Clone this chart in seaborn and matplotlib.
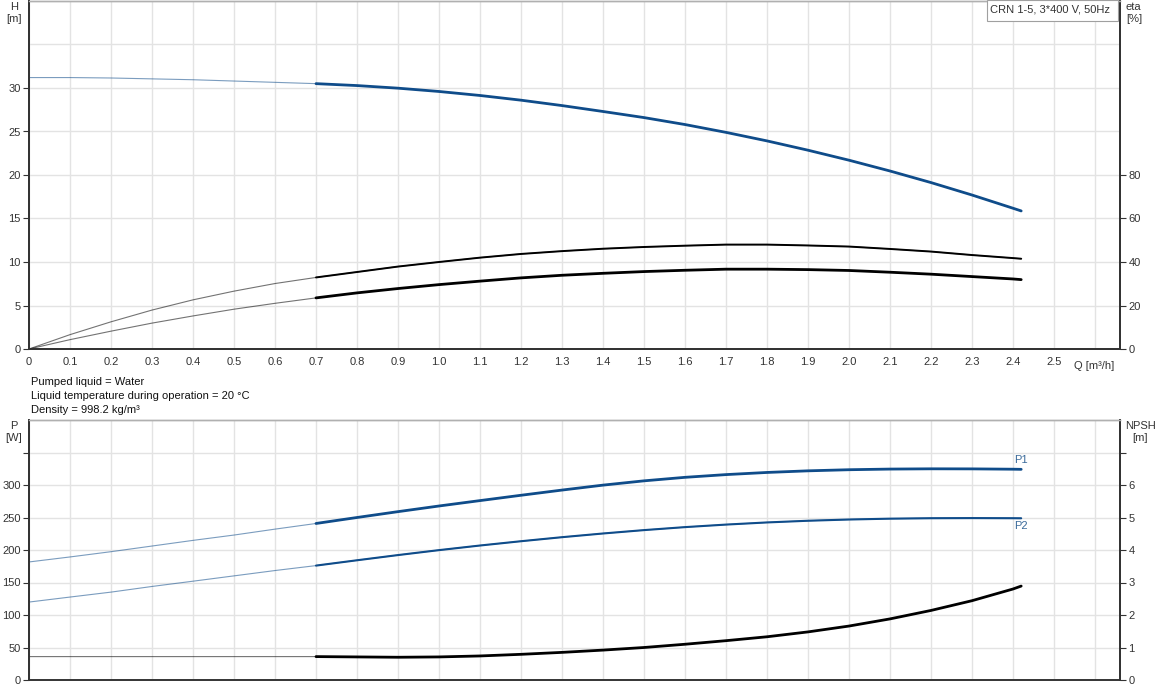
import numpy as np
import seaborn as sns
import matplotlib.pyplot as plt
from matplotlib.patches import Rectangle

# flow points [m3/h]
q = [0.0, 0.1, 0.2, 0.3, 0.4, 0.5, 0.6, 0.7, 0.8, 0.9, 1.0, 1.1, 1.2, 1.3,
     1.4, 1.5, 1.6, 1.7, 1.8, 1.9, 2.0, 2.1, 2.2, 2.3, 2.4, 2.42]

head = [31.2, 31.2, 31.15, 31.05, 30.95, 30.8, 30.65, 30.5, 30.28, 29.98, 29.6,
        29.14, 28.6, 27.98, 27.3, 26.6, 25.8, 24.9, 23.92, 22.85, 21.7,
        20.46, 19.13, 17.7, 16.18, 15.87]
eta_pump = [0, 6.6, 12.5, 17.9, 22.6, 26.6, 30.1, 32.9, 35.4, 37.9, 40.0, 42.0,
            43.7, 45.0, 46.1, 46.9, 47.5, 48.0, 48.0, 47.6, 47.1, 46.0, 44.8,
            43.2, 41.8, 41.5]
eta_total = [0, 4.3, 8.2, 11.9, 15.2, 18.3, 21.0, 23.5, 25.8, 27.8, 29.6, 31.2,
             32.7, 33.9, 34.8, 35.6, 36.2, 36.7, 36.7, 36.5, 36.1, 35.3, 34.4,
             33.3, 32.2, 31.9]
p1 = [181.6, 189.3, 197.4, 206.1, 214.8, 223.0, 232.1, 240.8, 250.0, 259.0,
      267.7, 276.0, 284.2, 292.2, 299.8, 306.4, 311.8, 316.0, 319.3, 321.8,
      323.5, 324.5, 324.9, 324.8, 324.3, 324.1]
p2 = [119.9, 127.6, 135.2, 143.9, 152.0, 160.2, 168.4, 176.0, 184.2, 192.2,
      199.8, 206.9, 213.5, 219.7, 225.4, 230.6, 235.2, 239.1, 242.4, 245.0,
      246.9, 248.2, 248.9, 249.1, 248.9, 248.8]
npsh = [0.72, 0.72, 0.72, 0.72, 0.72, 0.72, 0.72, 0.72, 0.71, 0.70, 0.71, 0.74,
        0.79, 0.85, 0.92, 1.0, 1.1, 1.21, 1.33, 1.48, 1.66, 1.88, 2.14, 2.44,
        2.8, 2.89]

q_ticks = [round(0.1 * i, 1) for i in range(27)]
q_labels = ['0'] + ['%.1f' % v for v in q_ticks[1:26]] + ['']
h_ticks = [0, 5, 10, 15, 20, 25, 30]
eta_ticks = [0, 20, 40, 60, 80]
p_ticks = [0, 50, 100, 150, 200, 250, 300, 350]
p_labels = ['0', '50', '100', '150', '200', '250', '300', '']
npsh_ticks = [0, 1, 2, 3, 4, 5, 6, 7]
npsh_labels = ['0', '1', '2', '3', '4', '5', '6', '']
info = ['Pumped liquid = Water',
        'Liquid temperature during operation = 20 °C',
        'Density = 998.2 kg/m³']

sns.set_style('whitegrid')
plt.rcParams['font.family'] = ['Liberation Sans', 'DejaVu Sans']
plt.rcParams['font.size'] = 8

BLUE = '#0f4c8a'
GRID = '#e3e3e3'
DARK = '#333333'
start = 7  # operating range starts at 0.7 m3/h

fig = plt.figure(figsize=(11.62, 7.0), dpi=100)
ax_h = fig.add_axes([29 / 1162, 1 - 349 / 700, 1091 / 1162, 348 / 700])
ax_p = fig.add_axes([29 / 1162, 1 - 680 / 700, 1091 / 1162, 260 / 700])
ax_eta = ax_h.twinx()
ax_npsh = ax_p.twinx()


def curve(ax, y, color, lw):
    sns.lineplot(x=q, y=y, ax=ax, color=color, lw=0.8, alpha=0.55)
    sns.lineplot(x=q[start:], y=y[start:], ax=ax, color=color, lw=lw)


curve(ax_h, head, BLUE, 2.0)
curve(ax_eta, eta_pump, 'black', 1.4)
curve(ax_eta, eta_total, 'black', 2.0)
curve(ax_p, p1, BLUE, 2.0)
curve(ax_p, p2, BLUE, 1.5)
curve(ax_npsh, npsh, 'black', 2.0)

ax_p.text(q[-1], p1[-1] + 6, 'P1', color='#3a6a9a', ha='center', va='bottom')
ax_p.text(q[-1], p2[-1] - 4, 'P2', color='#3a6a9a', ha='center', va='top')

for ax in (ax_h, ax_p):
    ax.set_xlim(0, 2.661)
    ax.set_xticks(q_ticks)
    ax.grid(True, color=GRID, lw=1)
    ax.set_xlabel('')
    ax.set_ylabel('')
for ax in (ax_eta, ax_npsh):
    ax.grid(False)
    ax.set_ylabel('')

ax_h.set_xticklabels(q_labels, color=DARK)
ax_h.tick_params(axis='x', length=4, color=DARK, pad=2)
ax_p.set_xticklabels([])
ax_p.tick_params(axis='x', length=0)

ax_h.set_ylim(0, 40)
ax_h.set_yticks(h_ticks)
ax_h.set_yticks([35], minor=True)
ax_h.grid(True, which='minor', axis='y', color=GRID, lw=1)
ax_h.tick_params(axis='y', which='major', length=4, color=DARK, pad=2, labelcolor=DARK)
ax_h.tick_params(axis='y', which='minor', length=0)
ax_eta.set_ylim(0, 160)
ax_eta.set_yticks(eta_ticks)
ax_eta.tick_params(axis='y', length=4, color=DARK, pad=2, labelcolor=DARK)

ax_p.set_ylim(0, 400)
ax_p.set_yticks(p_ticks)
ax_p.set_yticklabels(p_labels)
ax_p.tick_params(axis='y', length=4, color=DARK, pad=2, labelcolor=DARK)
ax_npsh.set_ylim(0, 8)
ax_npsh.set_yticks(npsh_ticks)
ax_npsh.set_yticklabels(npsh_labels)
ax_npsh.tick_params(axis='y', length=4, color=DARK, pad=2, labelcolor=DARK)

for ax in (ax_h, ax_p, ax_eta, ax_npsh):
    for side in ('left', 'right', 'bottom'):
        ax.spines[side].set_color(DARK)
        ax.spines[side].set_linewidth(1.3)
    ax.spines['top'].set_color('#b0b0b0')
    ax.spines['top'].set_linewidth(1.0)
ax_p.spines['bottom'].set_color('#666666')

ax_h.text(2.597, -0.035, 'Q [m³/h]', transform=ax_h.get_xaxis_transform(),
          ha='center', va='top', color=DARK)

# title box in the top right corner
fig.add_artist(Rectangle((987 / 1162, 1 - 21 / 700), 131 / 1162, 21 / 700,
                         transform=fig.transFigure, facecolor='white',
                         edgecolor='#a0a0a0', lw=0.8, zorder=5))
fig.text(990 / 1162, 1 - 9 / 700, 'CRN 1-5, 3*400 V, 50Hz', ha='left', va='center',
         color=DARK, zorder=6)

fig.text(14 / 1162, 1 - 13 / 700, 'H\n[m]', ha='center', va='center', color=DARK, linespacing=1.2)
fig.text(1126 / 1162, 1 - 13 / 700, 'eta\n[%]', ha='left', va='center', color=DARK, linespacing=1.2)
fig.text(14 / 1162, 1 - 432 / 700, 'P\n[W]', ha='center', va='center', color=DARK, linespacing=1.2)
fig.text(1140 / 1162, 1 - 432 / 700, 'NPSH\n[m]', ha='center', va='center', color=DARK, linespacing=1.2)

for i, line in enumerate(info):
    fig.text(31 / 1162, 1 - (382 + 14 * i) / 700, line, ha='left', va='center', color='#111111')

fig.savefig('out.png', dpi=100)
